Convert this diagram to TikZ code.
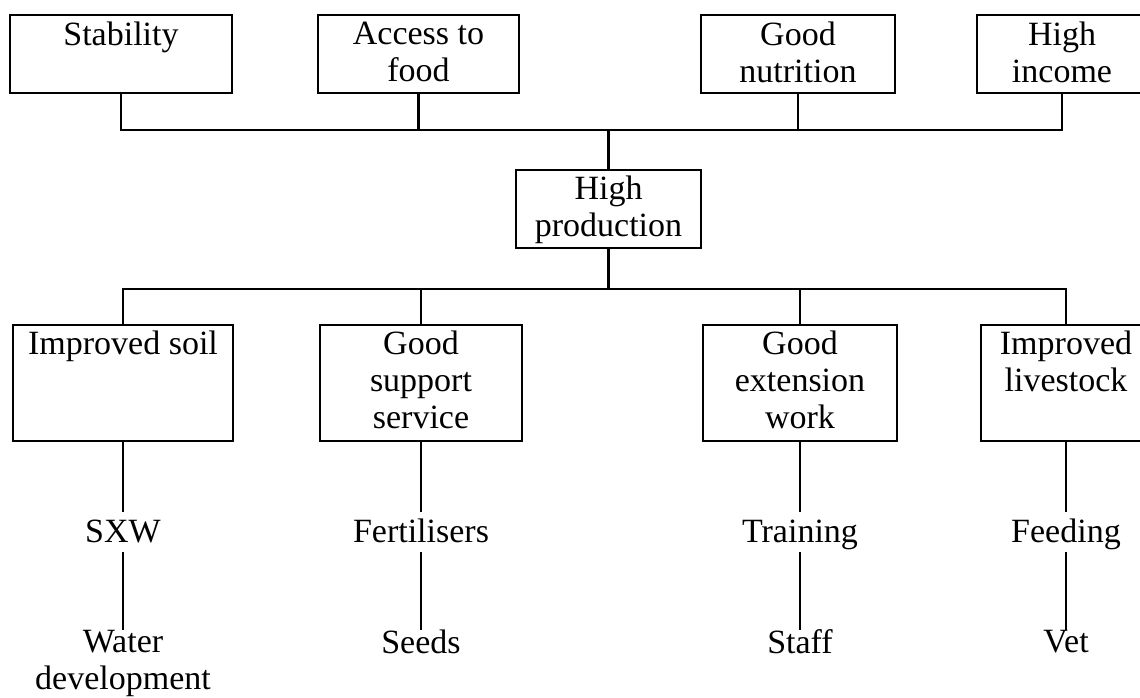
\documentclass[tikz,border=0pt]{standalone}
\usepackage{fontspec}
\setmainfont{Liberation Serif}
\usetikzlibrary{calc}
\newcommand\dgfont{\fontsize{34}{37}\selectfont}
\tikzset{
  box/.style={draw, line width=2.8pt, inner sep=0pt, outer sep=0pt, anchor=north west},
  topbox/.style={box, minimum height=78pt},
  lowbox/.style={box, minimum height=116pt},
  boxtxt/.style={anchor=north, inner sep=0pt, align=center, font=\dgfont},
  lbl/.style={anchor=base, inner sep=0pt, outer xsep=0pt, outer ysep=9pt, text height=21pt, text depth=1pt, font=\dgfont},
  lbltwo/.style={anchor=north, inner sep=0pt, outer sep=0pt, align=center, font=\dgfont},
  wire/.style={line width=2.8pt},
}
\begin{document}
\begin{tikzpicture}[x=1pt,y=-1pt]
\useasboundingbox (0,0) rectangle (1140,697);
\clip (0,0) rectangle (1140,697);
% top row
\node[topbox, minimum width=222pt] (stab) at (10,15) {};
\node[topbox, minimum width=201pt] (acc) at (318,15) {};
\node[topbox, minimum width=194pt] (nut) at (701,15) {};
\node[topbox, minimum width=170pt] (inc) at (977,15) {};
\node[boxtxt] (stabT) at ($(stab.north)+(0,7)$) {Stability};
\node[boxtxt] (accT) at ($(acc.north)+(0,7)$) {Access to\\food};
\node[boxtxt] (nutT) at ($(nut.north)+(0,7)$) {Good\\nutrition};
\node[boxtxt] (incT) at ($(inc.north)+(0,7)$) {High\\income};
% middle
\node[topbox, minimum width=185pt] (hp) at (516,170) {};
\node[boxtxt] (hpT) at ($(hp.north)+(0,6)$) {High\\production};
% lower row
\node[lowbox, minimum width=220pt] (soil) at (13,325) {};
\node[lowbox, minimum width=202pt] (supp) at (320,325) {};
\node[lowbox, minimum width=194pt] (ext) at (703,325) {};
\node[lowbox, minimum width=170pt] (live) at (981,325) {};
\node[boxtxt] (soilT) at ($(soil.north)+(0,6)$) {Improved soil};
\node[boxtxt] (suppT) at ($(supp.north)+(0,6)$) {Good\\support\\service};
\node[boxtxt] (extT) at ($(ext.north)+(0,6)$) {Good\\extension\\work};
\node[boxtxt] (liveT) at ($(live.north)+(0,6)$) {Improved\\livestock};
% free labels
\coordinate (r1) at (0,542);
\coordinate (r2) at (0,630);
\node[lbl] (sxw) at (soil.south |- r1) {SXW};
\node[lbl] (fert) at (supp.south |- r1) {Fertilisers};
\node[lbl] (train) at (ext.south |- r1) {Training};
\node[lbl] (feed) at (live.south |- r1) {Feeding};
\node[lbltwo] (water) at (soil.south |- r2) {Water\\development};
\node[lbltwo] (seeds) at (supp.south |- r2) {Seeds};
\node[lbltwo] (staff) at (ext.south |- r2) {Staff};
\node[lbltwo] (vet) at (live.south |- r2) {Vet};
% buses
\coordinate (tb) at (0,130);
\coordinate (bb) at (0,289);
\draw[wire] (stab.south) -- (stab.south |- tb) -- (inc.south |- tb) -- (inc.south);
\draw[wire] (acc.south) -- (acc.south |- tb);
\draw[wire] (nut.south) -- (nut.south |- tb);
\draw[wire] (hp.north) -- (hp.north |- tb);
\draw[wire] (soil.north) -- (soil.north |- bb) -- (live.north |- bb) -- (live.north);
\draw[wire] (supp.north) -- (supp.north |- bb);
\draw[wire] (ext.north) -- (ext.north |- bb);
\draw[wire] (hp.south) -- (hp.south |- bb);
% lower chains
\draw[wire] (soil.south) -- (sxw.north);
\draw[wire] (sxw.south) -- (water.north);
\draw[wire] (supp.south) -- (fert.north);
\draw[wire] (fert.south) -- (seeds.north);
\draw[wire] (ext.south) -- (train.north);
\draw[wire] (train.south) -- (staff.north);
\draw[wire] (live.south) -- (feed.north);
\draw[wire] (feed.south) -- (vet.north);
\end{tikzpicture}
\end{document}
